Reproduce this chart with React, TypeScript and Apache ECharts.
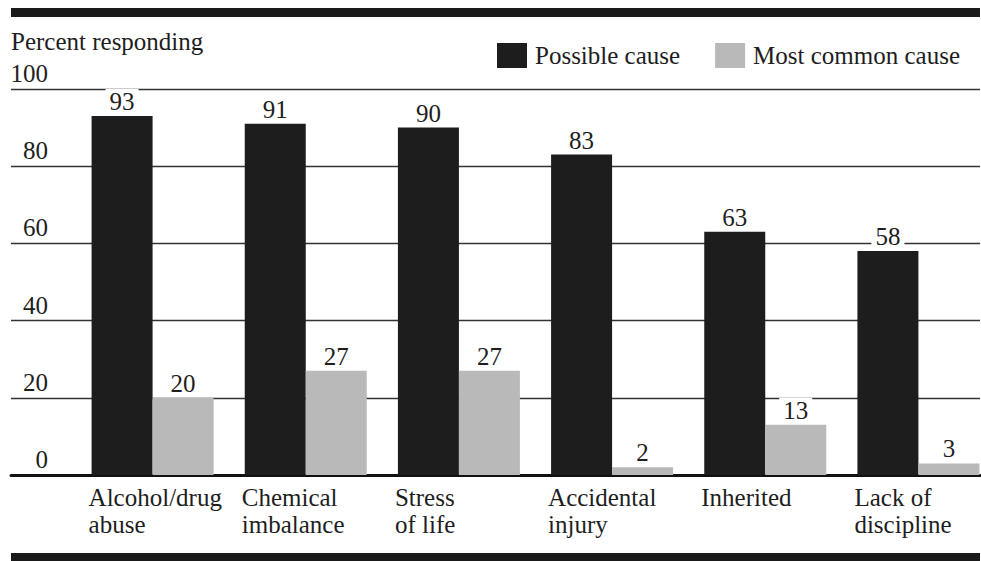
import React, { useEffect, useRef } from "react";
import * as echarts from "echarts";

const categories = [
  "Alcohol/drug\nabuse",
  "Chemical\nimbalance",
  "Stress\nof life",
  "Accidental\ninjury",
  "Inherited",
  "Lack of\ndiscipline",
];
const possibleCause = [93, 91, 90, 83, 63, 58];
const mostCommonCause = [20, 27, 27, 2, 13, 3];
const seriesNames = ["Possible cause", "Most common cause"];
const yTicks = [0, 20, 40, 60, 80, 100];
const yTitle = "Percent responding";

const FONT = "Liberation Serif";
const TEXT = "#1e1e1e";
const DARK = "#1d1d1d";
const GRAY = "#b9b9b9";

export default function App() {
  const ref = useRef<HTMLDivElement>(null);
  useEffect(() => {
    if (!ref.current) return;
    const chart = echarts.init(ref.current, undefined, { renderer: "svg" });
    const labelStyle = {
      show: true,
      position: "top" as const,
      distance: 2,
      fontFamily: FONT,
      fontSize: 25,
      color: TEXT,
      backgroundColor: "#ffffff",
      padding: [0, 4, 0, 4],
    };
    chart.setOption({
      animation: false,
      backgroundColor: "#ffffff",
      textStyle: { fontFamily: FONT },
      title: {
        text: yTitle,
        left: 11,
        top: 29,
        padding: 0,
        textStyle: { fontFamily: FONT, fontSize: 25, fontWeight: "normal", color: TEXT },
      },
      legend: {
        left: 497,
        top: 43,
        padding: 0,
        itemWidth: 30,
        itemHeight: 25,
        itemGap: 35,
        icon: "rect",
        data: seriesNames,
        textStyle: { fontFamily: FONT, fontSize: 25, color: TEXT, padding: [0, 0, 0, 3] },
      },
      graphic: [
        { type: "rect", shape: { x: 11, y: 8, width: 969, height: 9 }, style: { fill: "#1a1a1a" } },
        { type: "rect", shape: { x: 11, y: 553, width: 969, height: 10 }, style: { fill: "#1a1a1a" } },
      ],
      grid: [
        { left: 11, right: 20, top: 89, bottom: 86 },
        { left: 76, right: 5, top: 89, bottom: 86 },
        { left: 12, right: 69, top: 89, bottom: 86 },
      ],
      xAxis: [
        {
          type: "value",
          gridIndex: 0,
          min: 0,
          max: 1,
          axisLine: { show: true, onZero: false, lineStyle: { color: "#111", width: 3 } },
          axisTick: { show: false },
          axisLabel: { show: false },
          splitLine: { show: false },
        },
        {
          type: "category",
          gridIndex: 1,
          data: categories,
          axisLine: { show: false },
          axisTick: { show: false },
          axisLabel: { show: false },
        },
        {
          type: "category",
          gridIndex: 2,
          data: categories,
          axisLine: { show: false },
          axisTick: { show: false },
          axisLabel: {
            show: true,
            interval: 0,
            align: "left",
            verticalAlign: "top",
            margin: 9,
            fontFamily: FONT,
            fontSize: 25,
            lineHeight: 27,
            color: TEXT,
          },
        },
      ],
      yAxis: [
        {
          type: "value",
          gridIndex: 0,
          min: yTicks[0],
          max: yTicks[yTicks.length - 1],
          interval: 20,
          axisLine: { show: false },
          axisTick: { show: false },
          axisLabel: {
            inside: true,
            margin: 37,
            align: "right",
            verticalAlign: "bottom",
            padding: [0, 0, 3, 0],
            fontFamily: FONT,
            fontSize: 25,
            color: TEXT,
            showMinLabel: true,
            showMaxLabel: true,
          },
          splitLine: { show: true, lineStyle: { color: "#333", width: 1.4 } },
        },
        { type: "value", gridIndex: 1, min: 0, max: 100, show: false },
        { type: "value", gridIndex: 2, min: 0, max: 100, show: false },
      ],
      series: [
        {
          name: seriesNames[0],
          type: "bar",
          xAxisIndex: 1,
          yAxisIndex: 1,
          data: possibleCause,
          barWidth: 61,
          barGap: "0%",
          itemStyle: { color: DARK },
          label: labelStyle,
          z: 3,
        },
        {
          name: seriesNames[1],
          type: "bar",
          xAxisIndex: 1,
          yAxisIndex: 1,
          data: mostCommonCause,
          barWidth: 61,
          barGap: "0%",
          itemStyle: { color: GRAY },
          label: labelStyle,
          z: 3,
        },
      ],
    });
    return () => chart.dispose();
  }, []);
  return (
    <div
      style={{
        position: "absolute",
        left: 0,
        top: 0,
        width: 981,
        height: 561,
        overflow: "hidden",
        background: "#fff",
      }}
    >
      <div ref={ref} style={{ width: 1000, height: 561 }} />
    </div>
  );
}
